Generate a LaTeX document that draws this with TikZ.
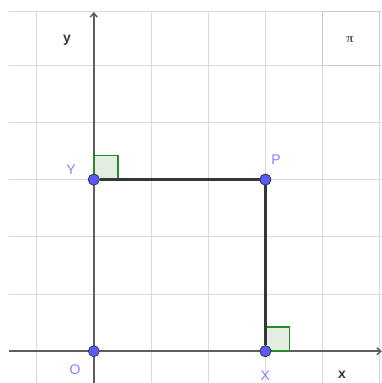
\documentclass[tikz,border=0pt]{standalone}
\usepackage{fontspec}
\setmainfont{Liberation Sans}
\newfontfamily\piserif{Liberation Serif}
\usetikzlibrary{arrows.meta}
\definecolor{gridc}{RGB}{218,218,218}
\definecolor{axisc}{RGB}{95,95,95}
\definecolor{segc}{RGB}{55,55,55}
\definecolor{ptfill}{RGB}{90,90,255}
\definecolor{ptlab}{RGB}{130,130,255}
\definecolor{angc}{RGB}{40,140,40}
\definecolor{angf}{RGB}{225,238,225}
\tikzset{
  gridline/.style={draw=gridc, line width=1pt},
  axisline/.style={draw=axisc, line width=1.5pt},
  segline/.style={draw=segc, line width=2.4pt},
  ptdot/.style={circle, fill=ptfill, draw=segc, line width=0.7pt, minimum size=11pt, inner sep=0pt},
  ptlabel/.style={text=ptlab, font=\fontsize{14}{16}\selectfont},
  axlabel/.style={text=segc, font=\bfseries\fontsize{14}{16}\selectfont},
  angbox/.style={draw=angc, fill=angf, line width=1.5pt}
}
\begin{document}
\begin{tikzpicture}[x=1pt,y=-1pt]
\useasboundingbox (0,0) rectangle (382,383);
% grid
\foreach \gx in {36.6,93.8,151,208.2,265.4,322.6,379.8}
  \draw[gridline] (\gx,11) -- (\gx,383);
\foreach \gy in {65.2,122.4,179.6,236.8,294,351.2}
  \draw[gridline] (9,\gy) -- (382,\gy);
\draw[gridline] (9,11) -- (382,11);
\draw[draw=gridc!92!black, line width=0.9pt] (322.6,11) rectangle (379.8,65.2);
\node[axlabel, font=\piserif\bfseries\fontsize{13}{15}\selectfont, text=segc!80] (pi) at (350,40) {π};
% axes
\coordinate (xs) at (9,351.2);
\coordinate (xe) at (382,351.2);
\coordinate (ys) at (93.8,383);
\coordinate (ye) at (93.8,12);
\draw[axisline, -{Straight Barb[length=4pt,width=7pt]}] (xs) -- (xe);
\draw[axisline, -{Straight Barb[length=4pt,width=7pt]}] (ys) -- (ye);
\node[axlabel] (ylab) at (67,40) {y};
\node[axlabel] (xlab) at (342,375) {x};
% right angle marks
\draw[angbox] (93.8,179.6) rectangle (118,155.5);
\draw[angbox] (265.4,351.2) rectangle (289.6,327);
% points
\node[ptdot] (O) at (93.8,351.2) {};
\node[ptdot] (X) at (265.4,351.2) {};
\node[ptdot] (Y) at (93.8,179.6) {};
\node[ptdot] (P) at (265.4,179.6) {};
\draw[segline] (Y) -- (P);
\draw[segline] (P) -- (X);
\node[ptdot] at (Y) {};
\node[ptdot] at (P) {};
\node[ptdot] at (X) {};
\node[ptlabel] (Ol) at (75,370) {O};
\node[ptlabel] (Xl) at (265.4,376) {X};
\node[ptlabel] (Yl) at (71,170) {Y};
\node[ptlabel] (Pl) at (276,160) {P};
\end{tikzpicture}
\end{document}
